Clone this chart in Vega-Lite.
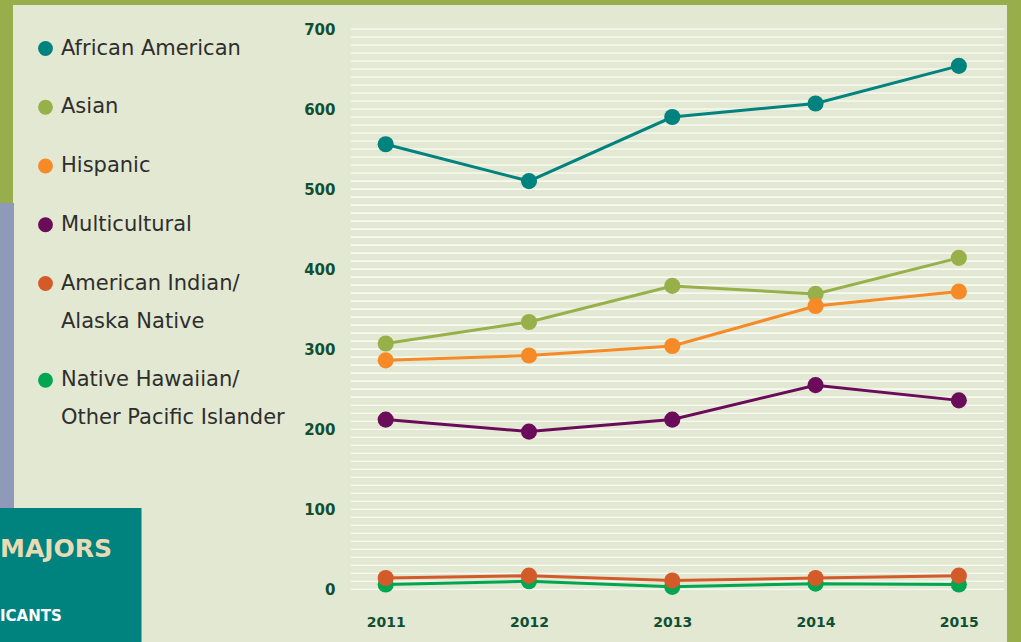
{
  "$schema": "https://vega.github.io/schema/vega-lite/v6.json",
  "width": 994,
  "height": 637,
  "autosize": {"type": "none"},
  "padding": {"left": 13, "top": 5, "right": 14, "bottom": 0},
  "background": "#97ae4a",
  "view": {"fill": "#e3e8d2", "stroke": null},
  "config": {
    "view": {"fill": "#e3e8d2", "stroke": null},
    "style": {"guide-label": {"lineHeight": 38}}
  },
  "datasets": {
    "grid": [
      {"g": 0}, {"g": 10}, {"g": 20}, {"g": 30}, {"g": 40}, {"g": 50}, {"g": 60}, {"g": 70}, {"g": 80}, {"g": 90},
      {"g": 100}, {"g": 110}, {"g": 120}, {"g": 130}, {"g": 140}, {"g": 150}, {"g": 160}, {"g": 170}, {"g": 180}, {"g": 190},
      {"g": 200}, {"g": 210}, {"g": 220}, {"g": 230}, {"g": 240}, {"g": 250}, {"g": 260}, {"g": 270}, {"g": 280}, {"g": 290},
      {"g": 300}, {"g": 310}, {"g": 320}, {"g": 330}, {"g": 340}, {"g": 350}, {"g": 360}, {"g": 370}, {"g": 380}, {"g": 390},
      {"g": 400}, {"g": 410}, {"g": 420}, {"g": 430}, {"g": 440}, {"g": 450}, {"g": 460}, {"g": 470}, {"g": 480}, {"g": 490},
      {"g": 500}, {"g": 510}, {"g": 520}, {"g": 530}, {"g": 540}, {"g": 550}, {"g": 560}, {"g": 570}, {"g": 580}, {"g": 590},
      {"g": 600}, {"g": 610}, {"g": 620}, {"g": 630}, {"g": 640}, {"g": 650}, {"g": 660}, {"g": 670}, {"g": 680}, {"g": 690},
      {"g": 700}
    ],
    "main": [
      {"group": "African American", "year": 2011, "value": 556},
      {"group": "African American", "year": 2012, "value": 510},
      {"group": "African American", "year": 2013, "value": 590},
      {"group": "African American", "year": 2014, "value": 607},
      {"group": "African American", "year": 2015, "value": 654},
      {"group": "Asian", "year": 2011, "value": 307},
      {"group": "Asian", "year": 2012, "value": 334},
      {"group": "Asian", "year": 2013, "value": 379},
      {"group": "Asian", "year": 2014, "value": 369},
      {"group": "Asian", "year": 2015, "value": 414},
      {"group": "Hispanic", "year": 2011, "value": 286},
      {"group": "Hispanic", "year": 2012, "value": 292},
      {"group": "Hispanic", "year": 2013, "value": 304},
      {"group": "Hispanic", "year": 2014, "value": 354},
      {"group": "Hispanic", "year": 2015, "value": 372},
      {"group": "Multicultural", "year": 2011, "value": 212},
      {"group": "Multicultural", "year": 2012, "value": 197},
      {"group": "Multicultural", "year": 2013, "value": 212},
      {"group": "Multicultural", "year": 2014, "value": 255},
      {"group": "Multicultural", "year": 2015, "value": 236},
      {"group": "Native Hawaiian/Other Pacific Islander", "year": 2011, "value": 6},
      {"group": "Native Hawaiian/Other Pacific Islander", "year": 2012, "value": 10},
      {"group": "Native Hawaiian/Other Pacific Islander", "year": 2013, "value": 3},
      {"group": "Native Hawaiian/Other Pacific Islander", "year": 2014, "value": 7},
      {"group": "Native Hawaiian/Other Pacific Islander", "year": 2015, "value": 6},
      {"group": "American Indian/Alaska Native", "year": 2011, "value": 14},
      {"group": "American Indian/Alaska Native", "year": 2012, "value": 17},
      {"group": "American Indian/Alaska Native", "year": 2013, "value": 11},
      {"group": "American Indian/Alaska Native", "year": 2014, "value": 14},
      {"group": "American Indian/Alaska Native", "year": 2015, "value": 17}
    ],
    "deco": [
      {"panel": "ICANTS", "strip": "a"}
    ]
  },
  "layer": [
    {
      "data": {"name": "grid"},
      "mark": {"type": "rule", "color": "#ffffff", "strokeWidth": 1.1},
      "encoding": {
        "y": {"field": "g", "type": "quantitative"},
        "x": {"datum": 2010.756, "type": "quantitative"},
        "x2": {"datum": 2015.315}
      }
    },
    {
      "data": {"name": "main"},
      "mark": {"type": "line", "strokeWidth": 3},
      "encoding": {
        "x": {
          "field": "year", "type": "quantitative",
          "scale": {"domain": [2008.399, 2015.336], "nice": false, "zero": false},
          "axis": {
            "values": [2011, 2012, 2013, 2014, 2015], "format": "d", "title": null,
            "grid": false, "domain": false, "ticks": false, "labelPadding": 0,
            "offset": -20, "labelBaseline": "middle", "labelFlush": false,
            "labelFont": "DejaVu Sans", "labelFontWeight": "bold", "labelFontSize": 14, "labelColor": "#0f4f33"
          }
        },
        "y": {
          "field": "value", "type": "quantitative",
          "scale": {"domain": [-65.9, 730], "nice": false, "zero": false},
          "axis": {
            "values": [0, 100, 200, 300, 400, 500, 600, 700], "title": null,
            "grid": false, "domain": false, "ticks": false, "labelPadding": 0,
            "offset": -322,
            "labelFont": "DejaVu Sans", "labelFontWeight": "bold", "labelFontSize": 15, "labelColor": "#0f4f33"
          }
        },
        "color": {
          "field": "group", "type": "nominal",
          "scale": {
            "domain": ["African American", "Asian", "Hispanic", "Multicultural", "American Indian/Alaska Native", "Native Hawaiian/Other Pacific Islander"],
            "range": ["#00827e", "#97b04a", "#f68a26", "#6b0c5b", "#d35b29", "#00a650"]
          },
          "legend": {
            "orient": "none", "legendX": 22, "legendY": 33, "title": null, "padding": 0,
            "symbolType": "circle", "symbolSize": 220, "symbolStrokeWidth": 0,
            "labelFont": "DejaVu Sans", "labelFontSize": 21, "labelColor": "#2e2e2e",
            "labelOffset": 5, "labelLimit": 400, "rowPadding": 36.75,
            "labelExpr": "datum.label == 'American Indian/Alaska Native' ? ['American Indian/', 'Alaska Native'] : datum.label == 'Native Hawaiian/Other Pacific Islander' ? ['Native Hawaiian/', 'Other Pacific Islander'] : datum.label"
          }
        }
      }
    },
    {
      "data": {"name": "main"},
      "mark": {"type": "point", "filled": true, "size": 260, "opacity": 1},
      "encoding": {
        "x": {"field": "year", "type": "quantitative"},
        "y": {"field": "value", "type": "quantitative"},
        "color": {"field": "group", "type": "nominal"}
      }
    },
    {
      "data": {"name": "deco"},
      "mark": {"type": "point", "opacity": 0},
      "encoding": {
        "shape": {
          "field": "panel", "type": "nominal",
          "legend": {
            "orient": "none", "legendX": -41.5, "legendY": 503, "padding": 28.5,
            "fillColor": "#00827f", "strokeColor": null,
            "title": "MAJORS", "titleFont": "DejaVu Sans", "titleFontWeight": "bold", "titleFontSize": 25,
            "titleColor": "#e8dbb4", "titlePadding": 46.5, "titleLimit": 400,
            "symbolSize": 0, "symbolOpacity": 0, "symbolStrokeWidth": 0, "labelOffset": -15,
            "labelFont": "DejaVu Sans", "labelFontWeight": "bold", "labelFontSize": 15, "labelColor": "#ffffff"
          }
        },
        "size": {
          "field": "strip", "type": "ordinal",
          "legend": {
            "orient": "none", "legendX": -317, "legendY": 198, "padding": 152,
            "fillColor": "#8f9aba", "strokeColor": null, "title": null,
            "symbolSize": 0, "symbolOpacity": 0, "symbolStrokeWidth": 0, "labelOffset": 0,
            "labelExpr": "''", "labelFontSize": 1
          }
        }
      }
    }
  ],
  "resolve": {"legend": {"shape": "independent", "size": "independent"}}
}
